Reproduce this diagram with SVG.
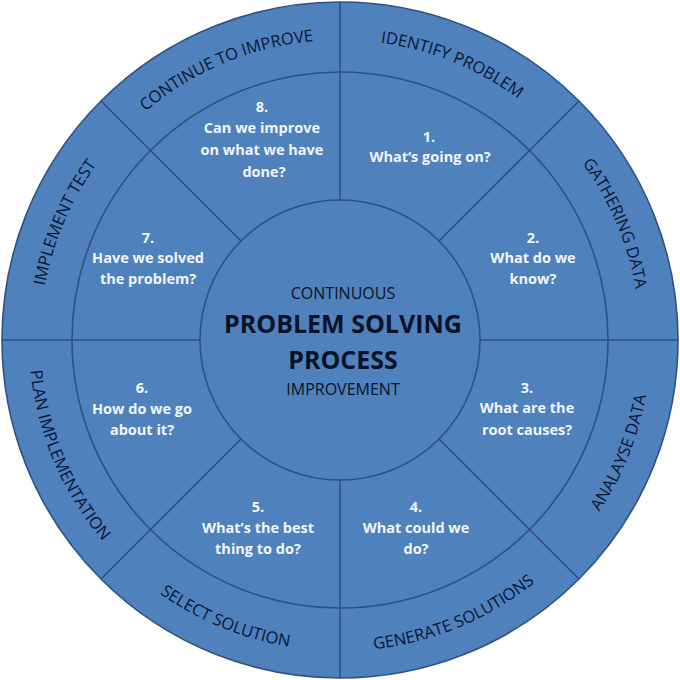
<svg xmlns="http://www.w3.org/2000/svg" xmlns:xlink="http://www.w3.org/1999/xlink" width="680" height="680" viewBox="0 0 680 680">
<style>
.ring{fill:#4f81bd;stroke:#2f5282;stroke-width:1.6}
.div{stroke:#2f5282;stroke-width:1.6;fill:none}
.lbl{font-family:"Open Sans","Liberation Sans",sans-serif;font-size:16.5px;fill:#0a1632}
.q{font-family:"Open Sans","Liberation Sans",sans-serif;font-size:14.5px;font-weight:bold;fill:#f2f5fb;text-anchor:middle}
.c{font-family:"Open Sans","Liberation Sans",sans-serif;fill:#0a1226;text-anchor:middle}
</style>
<defs>
<path id="cw" d="M340,640 A300,300 0 1,1 340,40 A300,300 0 1,1 340,640"/>
<path id="ccw" d="M340,29 A311,311 0 1,0 340,651 A311,311 0 1,0 340,29"/>
</defs>
<rect width="680" height="680" fill="#ffffff"/>
<g id="wheel">
<circle class="ring" cx="340" cy="340" r="338"/>
<circle class="ring" cx="340" cy="340" r="268"/>
<circle class="ring" cx="340" cy="340" r="140"/>
</g>
<g id="connectors">
<line class="div" x1="480" y1="340" x2="678" y2="340"/>
<line class="div" x1="439" y1="439" x2="579" y2="579"/>
<line class="div" x1="340" y1="480" x2="340" y2="678"/>
<line class="div" x1="241" y1="439" x2="101" y2="579"/>
<line class="div" x1="200" y1="340" x2="2" y2="340"/>
<line class="div" x1="241" y1="241" x2="101" y2="101"/>
<line class="div" x1="340" y1="200" x2="340" y2="2"/>
<line class="div" x1="439" y1="241" x2="579" y2="101"/>
</g>
<g id="step1">
<text class="lbl"><textPath xlink:href="#cw" startOffset="1058" text-anchor="middle">IDENTIFY PROBLEM</textPath></text>
<text class="q" x="429" y="142">1.</text>
<text class="q" x="430" y="162">What‘s going on?</text>
</g>
<g id="step2">
<text class="lbl"><textPath xlink:href="#cw" startOffset="1293" text-anchor="middle">GATHERING DATA</textPath></text>
<text class="q" x="533" y="243">2.</text>
<text class="q" x="533" y="263">What do we</text>
<text class="q" x="533" y="284">know?</text>
</g>
<g id="step3">
<text class="lbl"><textPath xlink:href="#ccw" startOffset="1346" text-anchor="middle">ANALAYSE DATA</textPath></text>
<text class="q" x="527" y="393">3.</text>
<text class="q" x="527" y="413">What are the</text>
<text class="q" x="527" y="435">root causes?</text>
</g>
<g id="step4">
<text class="lbl"><textPath xlink:href="#ccw" startOffset="1099" text-anchor="middle">GENERATE SOLUTIONS</textPath></text>
<text class="q" x="416" y="512">4.</text>
<text class="q" x="416" y="533">What could we</text>
<text class="q" x="416" y="554">do?</text>
</g>
<g id="step5">
<text class="lbl"><textPath xlink:href="#ccw" startOffset="855" text-anchor="middle">SELECT SOLUTION</textPath></text>
<text class="q" x="258" y="512">5.</text>
<text class="q" x="258" y="533">What’s the best</text>
<text class="q" x="258" y="554">thing to do?</text>
</g>
<g id="step6">
<text class="lbl"><textPath xlink:href="#ccw" startOffset="613" text-anchor="middle">PLAN IMPLEMENTATION</textPath></text>
<text class="q" x="142" y="393">6.</text>
<text class="q" x="142" y="414">How do we go</text>
<text class="q" x="142" y="435">about it?</text>
</g>
<g id="step7">
<text class="lbl"><textPath xlink:href="#cw" startOffset="592" text-anchor="middle">IMPLEMENT TEST</textPath></text>
<text class="q" x="148" y="243">7.</text>
<text class="q" x="148" y="263">Have we solved</text>
<text class="q" x="148" y="284">the problem?</text>
</g>
<g id="step8">
<text class="lbl"><textPath xlink:href="#cw" startOffset="823" text-anchor="middle">CONTINUE TO IMPROVE</textPath></text>
<text class="q" x="262" y="112">8.</text>
<text class="q" x="262" y="133">Can we improve</text>
<text class="q" x="262" y="155">on what we have</text>
<text class="q" x="264" y="177">done?</text>
</g>
<g id="center">
<text class="c" x="343" y="299" font-size="16">CONTINUOUS</text>
<text class="c" x="343" y="333" font-size="25" font-weight="bold">PROBLEM SOLVING</text>
<text class="c" x="343" y="369" font-size="25" font-weight="bold">PROCESS</text>
<text class="c" x="343" y="395" font-size="16">IMPROVEMENT</text>
</g>
</svg>
